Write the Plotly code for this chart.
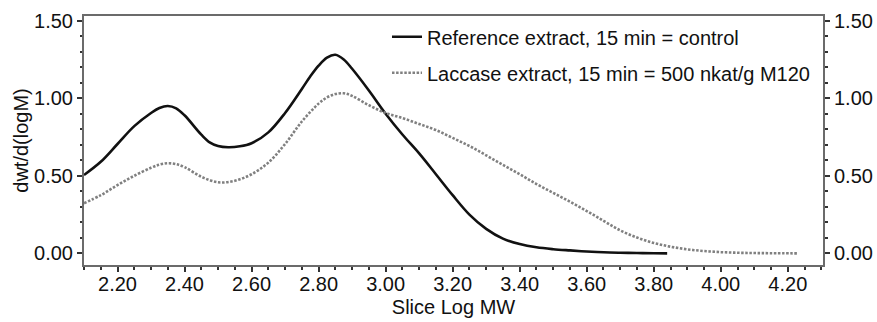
import plotly.graph_objects as go

# Slice Log MW (x) and dwt/d(logM) (y)
ref_x = [2.10, 2.15, 2.20, 2.25, 2.30, 2.325, 2.35, 2.375, 2.40, 2.45, 2.475, 2.50, 2.53, 2.565,
         2.60, 2.65, 2.70, 2.75, 2.775, 2.80, 2.825, 2.85, 2.875, 2.90, 2.95, 3.00, 3.05, 3.10,
         3.15, 3.20, 3.25, 3.30, 3.35, 3.40, 3.45, 3.50, 3.55, 3.60, 3.65, 3.70, 3.75, 3.80, 3.84]
ref_y = [0.505, 0.59, 0.705, 0.82, 0.905, 0.937, 0.95, 0.935, 0.89, 0.765, 0.715, 0.692, 0.684, 0.69,
         0.71, 0.78, 0.905, 1.06, 1.14, 1.21, 1.262, 1.28, 1.25, 1.19, 1.05, 0.90, 0.766, 0.644,
         0.51, 0.375, 0.25, 0.158, 0.095, 0.06, 0.039, 0.027, 0.019, 0.012, 0.007, 0.004, 0.002, 0.001, 0.0]

lac_x = [2.10, 2.15, 2.20, 2.25, 2.30, 2.325, 2.35, 2.375, 2.40, 2.45, 2.50, 2.55, 2.60, 2.65,
         2.70, 2.75, 2.80, 2.825, 2.85, 2.875, 2.90, 2.95, 3.00, 3.05, 3.10, 3.15, 3.20, 3.25,
         3.30, 3.35, 3.40, 3.45, 3.50, 3.55, 3.60, 3.65, 3.70, 3.75, 3.80, 3.85, 3.90, 3.95,
         4.00, 4.05, 4.10, 4.15, 4.23]
lac_y = [0.323, 0.375, 0.44, 0.50, 0.552, 0.572, 0.581, 0.575, 0.556, 0.494, 0.458, 0.468, 0.51, 0.585,
         0.705, 0.85, 0.965, 1.005, 1.027, 1.032, 1.015, 0.955, 0.905, 0.872, 0.834, 0.795, 0.744, 0.692,
         0.632, 0.57, 0.51, 0.447, 0.39, 0.333, 0.273, 0.21, 0.148, 0.102, 0.067, 0.043, 0.026, 0.015,
         0.008, 0.004, 0.002, 0.001, 0.0]

ref_name = "Reference extract, 15 min = control"
lac_name = "Laccase extract, 15 min = 500 nkat/g M120"

x_ticks = [2.2, 2.4, 2.6, 2.8, 3.0, 3.2, 3.4, 3.6, 3.8, 4.0, 4.2]
y_ticks = [0.0, 0.5, 1.0, 1.5]

FONT = "Liberation Sans, Arial, sans-serif"
AX = "#6b6b6b"
TK = "#333333"

fig = go.Figure()
fig.add_trace(go.Scatter(x=ref_x, y=ref_y, mode="lines", name=ref_name, legendgroup="a",
                         line=dict(color="#111111", width=2.6, shape="spline", smoothing=1.0)))
fig.add_trace(go.Scatter(x=lac_x, y=lac_y, mode="lines", name=lac_name, legendgroup="b",
                         yaxis="y2",
                         line=dict(color="#808080", width=2.6, shape="spline", smoothing=1.0,
                                   dash="2.5px,1.6px")))

yrange = [-0.075, 1.53]
yax_common = dict(range=yrange, tickvals=y_ticks, tickformat=".2f", showline=True, linecolor=AX,
                  linewidth=2, ticks="outside", ticklen=5, tickwidth=1.6, tickcolor=TK,
                  showgrid=False, zeroline=False, tickfont=dict(size=20, color="#111", family=FONT),
                  minor=dict(dtick=0.1, tick0=0, ticks="outside", ticklen=2.5, tickwidth=2,
                             tickcolor=TK, showgrid=False),
                  automargin=False, fixedrange=True)

fig.update_layout(
    width=877, height=322,
    margin=dict(l=84, r=54, t=16, b=57),
    paper_bgcolor="white", plot_bgcolor="white",
    font=dict(family=FONT, size=20, color="#111"),
    showlegend=True,
    legend=dict(x=0.41, y=0.995, xanchor="left", yanchor="top", bgcolor="rgba(0,0,0,0)",
                borderwidth=0, tracegroupgap=7, font=dict(size=20, family=FONT, color="#111")),
    xaxis=dict(range=[2.10, 4.305], tickvals=x_ticks, tickformat=".2f", showline=True,
               linecolor=AX, linewidth=2, mirror=True, ticks="outside", ticklen=5, tickwidth=1.6,
               tickcolor=TK, showgrid=False, zeroline=False, automargin=False,
               ticklabelstandoff=-5,
               tickfont=dict(size=20, color="#111", family=FONT),
               minor=dict(dtick=0.05, tick0=2.1, ticks="outside", ticklen=3, tickwidth=2,
                          tickcolor=TK, showgrid=False),
               title=dict(text="Slice Log MW", font=dict(size=20, family=FONT, color="#111"),
                          standoff=6)),
    yaxis=dict(**yax_common, side="left",
               title=dict(text="dwt/d(logM)", font=dict(size=20, family=FONT, color="#111"),
                          standoff=0)),
    yaxis2=dict(**yax_common, side="right", overlaying="y", anchor="x"),
)

fig.write_html("out.html")
